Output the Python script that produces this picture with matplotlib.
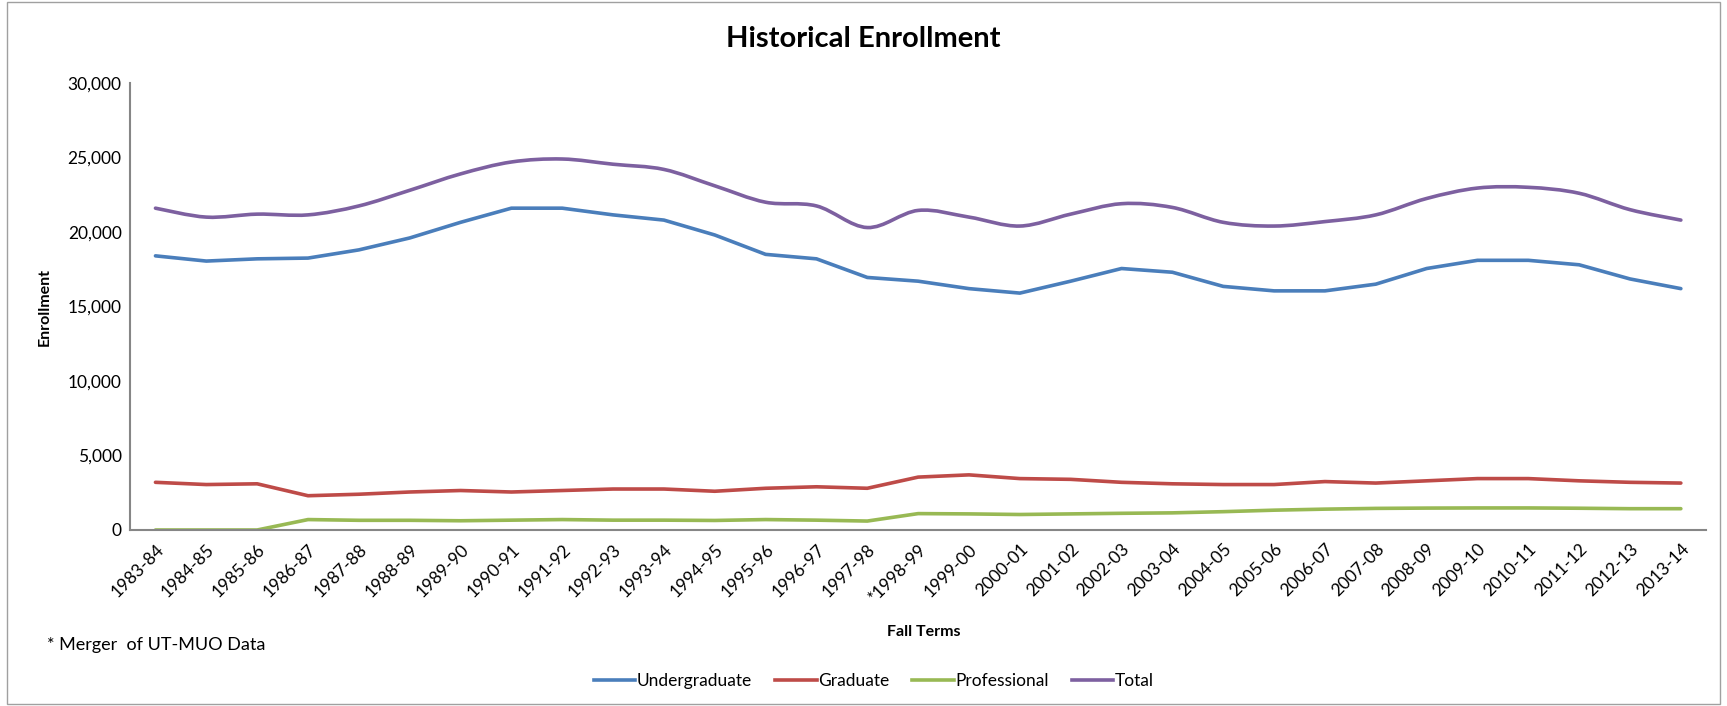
import numpy as np
import matplotlib.pyplot as plt
from matplotlib.path import Path
from matplotlib.patches import PathPatch, Rectangle
from matplotlib.lines import Line2D
from matplotlib.ticker import FuncFormatter

plt.rcParams['font.family'] = ['Lato', 'DejaVu Sans']

# Datos
terms = ['1983-84', '1984-85', '1985-86', '1986-87', '1987-88', '1988-89',
         '1989-90', '1990-91', '1991-92', '1992-93', '1993-94', '1994-95',
         '1995-96', '1996-97', '1997-98', '*1998-99', '1999-00', '2000-01',
         '2001-02', '2002-03', '2003-04', '2004-05', '2005-06', '2006-07',
         '2007-08', '2008-09', '2009-10', '2010-11', '2011-12', '2012-13',
         '2013-14']

undergraduate = [18400, 18050, 18200, 18250, 18800, 19600, 20650, 21600, 21600,
                 21150, 20800, 19800, 18500, 18200, 16950, 16700, 16200, 15900,
                 16700, 17550, 17300, 16350, 16050, 16050, 16500, 17550, 18100,
                 18100, 17800, 16850, 16200]

graduate = [3200, 3050, 3100, 2300, 2400, 2550, 2650, 2550, 2650, 2750, 2750,
            2600, 2800, 2900, 2800, 3550, 3700, 3450, 3400, 3200, 3100, 3050,
            3050, 3250, 3150, 3300, 3450, 3450, 3300, 3200, 3150]

professional = [0, 0, 0, 700, 650, 650, 620, 660, 700, 660, 660, 640, 700, 660,
                600, 1100, 1080, 1040, 1080, 1120, 1150, 1230, 1330, 1400, 1450,
                1470, 1480, 1480, 1460, 1430, 1430]

total = [21600, 21000, 21200, 21150, 21750, 22800, 23900, 24700, 24900, 24550,
         24200, 23100, 22000, 21750, 20300, 21450, 21000, 20400, 21200, 21900,
         21650, 20650, 20400, 20700, 21150, 22250, 22950, 23000, 22600, 21500,
         20800]

c_ug = '#4A7EBB'
c_gr = '#BE4B48'
c_pr = '#98B954'
c_to = '#7D60A0'

fig = plt.figure(figsize=(17.27, 7.06), dpi=100)
ax = fig.add_axes([0.0753, 0.2493, 0.9127, 0.6331])

x = np.arange(len(terms))
lw = 2.6

ax.plot(x, undergraduate, color=c_ug, lw=lw, solid_capstyle='round')
ax.plot(x, graduate, color=c_gr, lw=lw, solid_capstyle='round')
ax.plot(x, professional, color=c_pr, lw=lw, solid_capstyle='round')


# linea suavizada (estilo Excel) con curvas de Bezier entre los puntos
def smooth_path(xs, ys, t=1/6):
    xs = np.asarray(xs, float)
    ys = np.asarray(ys, float)
    verts = [(xs[0], ys[0])]
    codes = [Path.MOVETO]
    n = len(xs)
    for i in range(n - 1):
        i0 = max(i - 1, 0)
        i3 = min(i + 2, n - 1)
        c1 = (xs[i] + (xs[i + 1] - xs[i0]) * t, ys[i] + (ys[i + 1] - ys[i0]) * t)
        c2 = (xs[i + 1] - (xs[i3] - xs[i]) * t, ys[i + 1] - (ys[i3] - ys[i]) * t)
        verts += [c1, c2, (xs[i + 1], ys[i + 1])]
        codes += [Path.CURVE4] * 3
    return Path(verts, codes)


ax.add_patch(PathPatch(smooth_path(x, total), facecolor='none', edgecolor=c_to,
                       lw=lw, capstyle='round'))

ax.set_xlim(-0.5, len(terms) - 0.5)
ax.set_ylim(0, 30000)
ax.set_yticks(np.arange(0, 30001, 5000))
ax.yaxis.set_major_formatter(FuncFormatter(lambda v, p: '{:,.0f}'.format(v)))
ax.set_xticks(x)
ax.set_xticklabels(terms, rotation=45, ha='right', va='top',
                   rotation_mode='anchor')
ax.tick_params(axis='both', length=0, labelsize=12.5, colors='black')
ax.tick_params(axis='x', pad=8)
ax.tick_params(axis='y', pad=6)

for s in ['top', 'right']:
    ax.spines[s].set_visible(False)
for s in ['left', 'bottom']:
    ax.spines[s].set_color('#868686')
    ax.spines[s].set_linewidth(1.5)

fig.text(0.5, 0.945, 'Historical Enrollment', ha='center', va='center',
         fontsize=21, fontweight='bold')
fig.text(0.026, 0.565, 'Enrollment', rotation=90, ha='center', va='center',
         fontsize=11.5, fontweight='bold')
fig.text(0.535, 0.105, 'Fall Terms', ha='center', va='center',
         fontsize=11.5, fontweight='bold')
fig.text(0.027, 0.087, '* Merger  of UT-MUO Data', ha='left', va='center',
         fontsize=13)

handles = [Line2D([], [], color=c_ug, lw=lw),
           Line2D([], [], color=c_gr, lw=lw),
           Line2D([], [], color=c_pr, lw=lw),
           Line2D([], [], color=c_to, lw=lw)]
fig.legend(handles, ['Undergraduate', 'Graduate', 'Professional', 'Total'],
           loc='center', bbox_to_anchor=(0.506, 0.036), ncol=4, frameon=False,
           fontsize=12.5, handlelength=2.4, handletextpad=0.1, columnspacing=1.3)

# borde exterior del grafico
fig.patches.append(Rectangle((0.004, 0.003), 0.992, 0.994, transform=fig.transFigure,
                             fill=False, edgecolor='#A0A0A0', lw=1.0))

fig.savefig('out.png', dpi=100)
plt.close()
